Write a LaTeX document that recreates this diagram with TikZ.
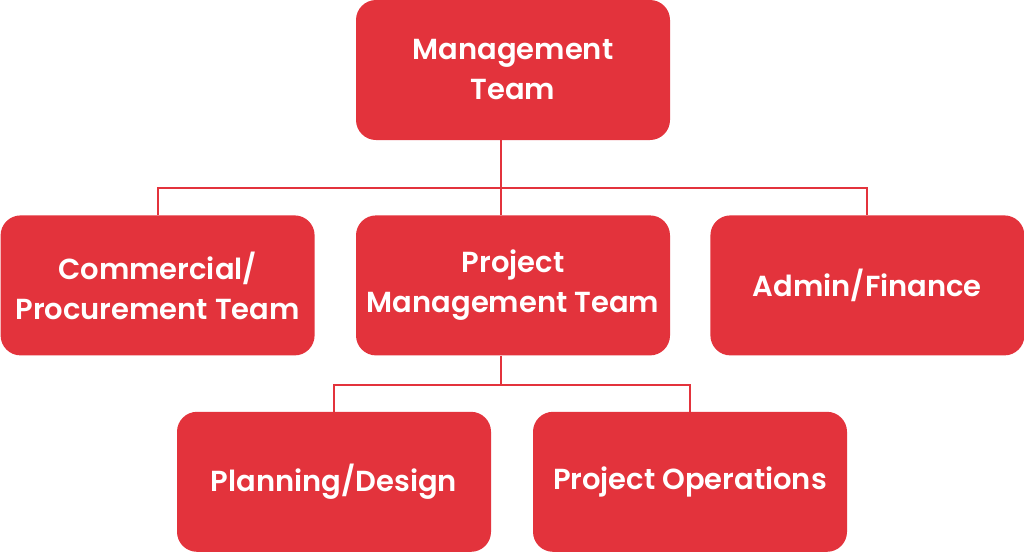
\documentclass[tikz,border=0pt]{standalone}
\usepackage{fontspec}
\setmainfont{Poppins}[UprightFont=* SemiBold]
\usepackage{tikz}
\usetikzlibrary{positioning}
\definecolor{myred}{RGB}{227,51,60}

\begin{document}
\begin{tikzpicture}[x=1pt, y=1pt,
    box/.style={rectangle, rounded corners=20pt, fill=myred, text=white,
        minimum width=314pt, minimum height=140pt, inner sep=0pt,
        align=center, font=\fontsize{29}{40}\selectfont},
    link/.style={draw=myred, line width=2pt}]
        \useasboundingbox (0,0) rectangle (1024,-552);

        \node[box] (M) at (513,-70) {Management\\Team};
        \node[box] (P) [below=75pt of M] {Project\\Management Team};
        \node[box] (C) [left=41pt of P] {Commercial/\\Procurement Team};
        \node[box] (A) [right=40pt of P] {Admin/Finance};
        \node[box] (D) [below=56pt of P, xshift=-179pt] {Planning/Design};
        \node[box] (O) [below=56pt of P, xshift=177pt] {Project Operations};

        \coordinate (m1) at ([xshift=-12pt]M.south);
        \coordinate (m2) at ([xshift=-12pt]P.north);
        \coordinate (p1) at ([xshift=-12pt]P.south);

        \draw[link] (m1) -- (m2);
        \draw[link] (C.north) |- ([yshift=-48pt]m1) -| (A.north);
        \draw[link] (p1) -- ([yshift=-29pt]p1);
        \draw[link] (D.north) |- ([yshift=-29pt]p1) -| (O.north);
    \end{tikzpicture}
\end{document}
